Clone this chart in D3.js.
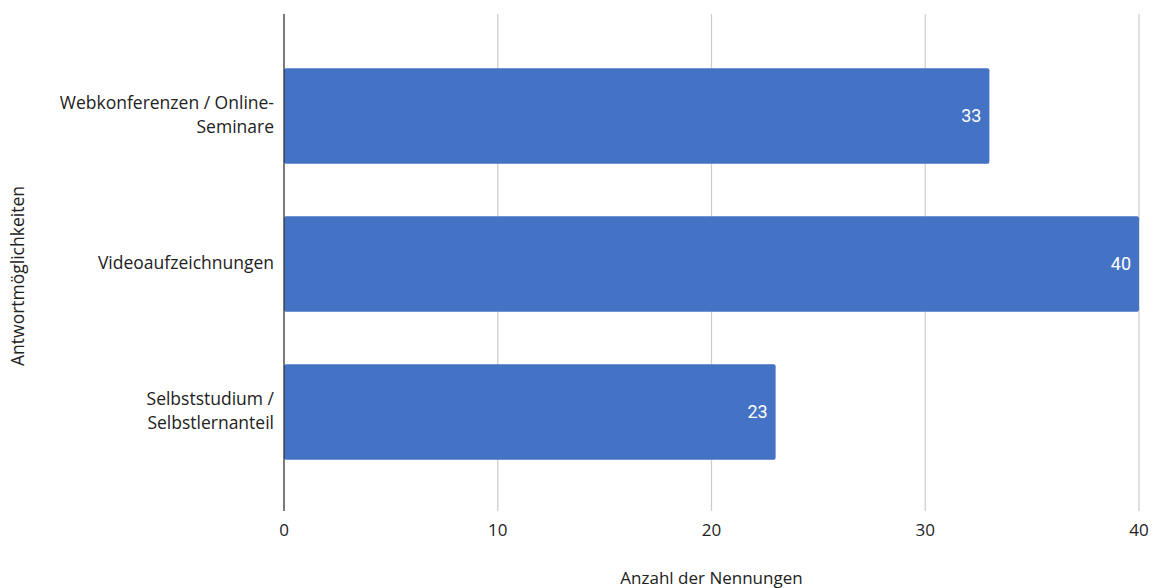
<!DOCTYPE html>
<html>
<head>
<meta charset="utf-8">
<script src="https://cdn.jsdelivr.net/npm/d3@7"></script>
<style>
  body { margin: 0; background: #fff; }
  svg { display: block; }
</style>
</head>
<body>
<svg id="chart" width="1155" height="588"></svg>
<script>
"use strict"

const categories = [
    ["Webkonferenzen / Online-", "Seminare"],
    ["Videoaufzeichnungen"],
    ["Selbststudium /", "Selbstlernanteil"]
]
const values = [33, 40, 23]
const xTicks = [0, 10, 20, 30, 40]
const xTitle = "Anzahl der Nennungen"
const yTitle = "Antwortmöglichkeiten"

const svg = d3.select("#chart")
const margin = {left: 284, right: 16, top: 14, bottom: 77}
const width = 1155, height = 588
const plotBottom = height - margin.bottom
const labelFont = "'Open Sans', 'Noto Sans', sans-serif"

const x = d3.scaleLinear()
    .domain([0, 40])
    .range([margin.left, width - margin.right])

const y = d3.scaleBand()
    .domain(d3.range(categories.length))
    .range([margin.top + 1, plotBottom + 2])
    .paddingInner(0.355)
    .paddingOuter(0.36)

// gridlines
svg.append("g")
    .selectAll("line")
    .data(xTicks.filter(d => d !== 0))
    .join("line")
    .attr("x1", d => x(d))
    .attr("x2", d => x(d))
    .attr("y1", margin.top)
    .attr("y2", plotBottom)
    .attr("stroke", "#cccccc")
    .attr("stroke-width", 1.2)

// bars
svg.append("g")
    .selectAll("rect")
    .data(values)
    .join("rect")
    .attr("x", x(0))
    .attr("y", (d, i) => y(i))
    .attr("width", d => x(d) - x(0))
    .attr("height", y.bandwidth())
    .attr("rx", 2)
    .attr("fill", "#4472c4")

// value labels
svg.append("g")
    .selectAll("text")
    .data(values)
    .join("text")
    .attr("x", d => x(d) - 8)
    .attr("y", (d, i) => y(i) + y.bandwidth() / 2)
    .attr("dy", "0.35em")
    .attr("text-anchor", "end")
    .style("font-family", "Roboto, Arial, sans-serif")
    .style("font-size", "18px")
    .attr("fill", "#ffffff")
    .text(d => d)

// y axis line
svg.append("line")
    .attr("x1", x(0))
    .attr("x2", x(0))
    .attr("y1", margin.top)
    .attr("y2", plotBottom)
    .attr("stroke", "#333333")
    .attr("stroke-width", 1.3)

// x tick labels
svg.append("g")
    .selectAll("text")
    .data(xTicks)
    .join("text")
    .attr("x", d => x(d))
    .attr("y", plotBottom + 19)
    .attr("dy", "0.35em")
    .attr("text-anchor", "middle")
    .style("font-family", labelFont)
    .style("font-size", "17px")
    .attr("fill", "#222")
    .text(d => d)

// category labels
const catG = svg.append("g")
    .selectAll("text")
    .data(categories)
    .join("text")
    .attr("text-anchor", "end")
    .style("font-family", labelFont)
    .style("font-size", "17.5px")
    .attr("fill", "#222")

catG.selectAll("tspan")
    .data((d, i) => d.map((line, j) => ({line, j, n: d.length, i})))
    .join("tspan")
    .attr("x", margin.left - 10)
    .attr("y", d => y(d.i) + y.bandwidth() / 2 - 1 + (d.j - (d.n - 1) / 2) * 24)
    .attr("dy", "0.35em")
    .text(d => d.line)

// axis titles
svg.append("text")
    .attr("x", (margin.left + width - margin.right) / 2)
    .attr("y", 578)
    .attr("dy", "0.35em")
    .attr("text-anchor", "middle")
    .style("font-family", labelFont)
    .style("font-size", "17px")
    .attr("fill", "#222")
    .text(xTitle)

svg.append("text")
    .attr("transform", "translate(18," + 276 + ") rotate(-90)")
    .attr("dy", "0.35em")
    .attr("text-anchor", "middle")
    .style("font-family", labelFont)
    .style("font-size", "17.5px")
    .attr("fill", "#222")
    .text(yTitle)
</script>
</body>
</html>
